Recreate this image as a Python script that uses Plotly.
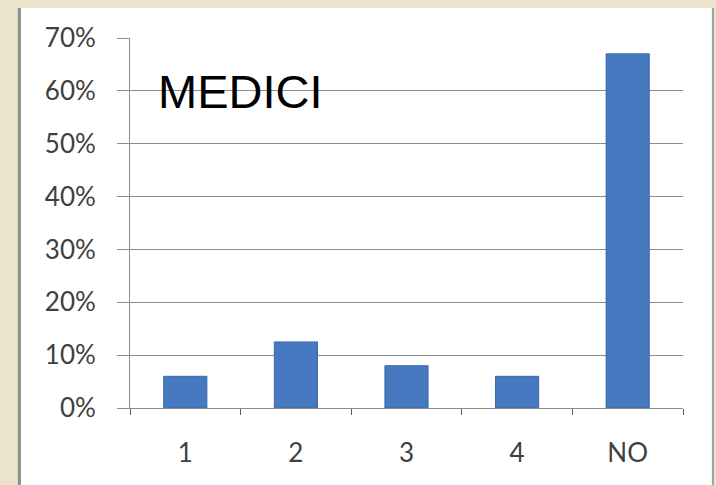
import plotly.graph_objects as go

categorie = ["1", "2", "3", "4", "NO"]
valori = [0.06, 0.125, 0.08, 0.06, 0.67]
tick_y = [0, 0.1, 0.2, 0.3, 0.4, 0.5, 0.6, 0.7]
etichette_y = ["0%", "10%", "20%", "30%", "40%", "50%", "60%", "70%"]

fig = go.Figure(data=[go.Bar(
    x=categorie,
    y=valori,
    width=0.39,
    marker_color='#4679C0',
    marker_line_color='#3A67A8',
    marker_line_width=1,
)])

fig.update_layout(
    width=716,
    height=485,
    autosize=False,
    margin=dict(l=130, r=33, t=38, b=77),
    paper_bgcolor='#EBE3CC',
    plot_bgcolor='white',
    showlegend=False,
    font=dict(family='Lato', color='#404040', size=26),
    shapes=[
        # pannello bianco dietro il grafico
        dict(type='rect', xref='paper', yref='paper', layer='below',
             x0=-0.2, x1=1.054, y0=-0.25, y1=1.081,
             fillcolor='white', line=dict(width=0)),
        # bordi grigi a sinistra e a destra
        dict(type='line', xref='paper', yref='paper', layer='below',
             x0=-0.2, x1=-0.2, y0=-0.25, y1=1.081,
             line=dict(color='#8E8E8E', width=3)),
        dict(type='line', xref='paper', yref='paper', layer='below',
             x0=1.054, x1=1.054, y0=-0.25, y1=1.081,
             line=dict(color='#A0A0A0', width=2)),
    ],
    annotations=[
        dict(text='MEDICI', xref='paper', yref='paper', x=0.2, y=0.855,
             xanchor='center', yanchor='middle', showarrow=False,
             font=dict(family='Liberation Sans', size=47, color='black')),
    ],
)

fig.update_yaxes(
    range=[0, 0.7],
    tickvals=tick_y,
    ticktext=etichette_y,
    showgrid=True, gridcolor='#8C8C8C', gridwidth=1,
    showline=True, linecolor='#8C8C8C', linewidth=1,
    ticks='outside', ticklen=12, tickcolor='#8C8C8C',
    ticklabelstandoff=16,
    zeroline=False,
)
fig.update_xaxes(
    showline=True, linecolor='#8C8C8C', linewidth=1,
    ticks='outside', tickson='boundaries', ticklen=6, tickcolor='#606060',
    ticklabelstandoff=22,
    showgrid=False,
)

# togliere il margine della pagina, così il grafico parte da 0,0
fig.write_html("out.html", config={'displayModeBar': False},
               post_script="document.body.style.margin='0';")
